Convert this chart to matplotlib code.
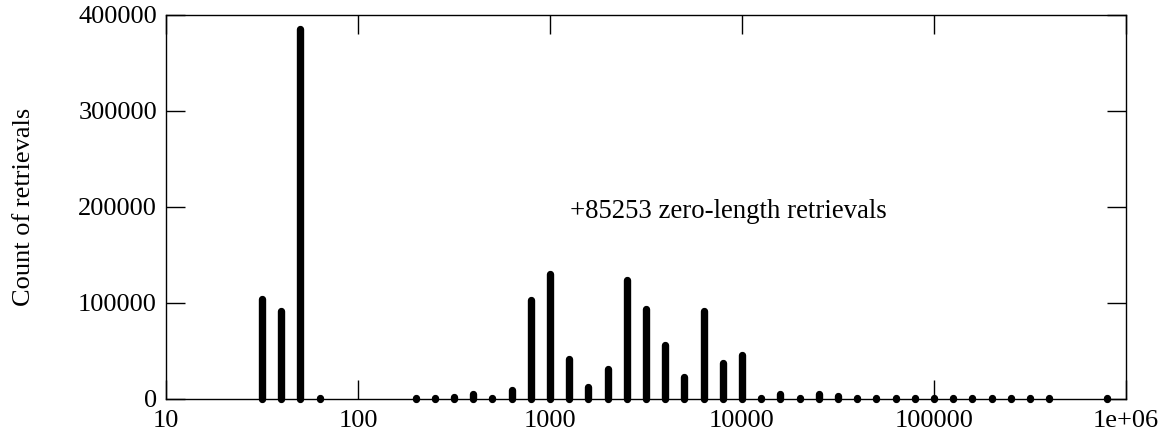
import matplotlib
matplotlib.use("Agg")
import matplotlib.pyplot as plt
from matplotlib.ticker import FixedLocator, FixedFormatter, NullLocator

plt.rcParams['font.family'] = ['Liberation Serif', 'DejaVu Serif']

# Retrieval length bins (bytes, log-spaced) and the number of retrievals per bin
lengths = [31.6, 39.8, 50.1, 63.1,
           200, 251, 316, 398, 501, 631, 794,
           1000, 1259, 1585, 1995, 2512, 3162, 3981, 5012, 6310, 7943,
           10000, 12589, 15849, 19953, 25119, 31623, 39811, 50119, 63096, 79433,
           100000, 125893, 158489, 199526, 251189, 316228, 398107,
           794328]
counts = [103500, 91500, 385000, 600,
          400, 500, 1500, 4800, 600, 8600, 102500,
          129500, 41500, 12000, 31000, 123500, 93000, 55500, 23000, 91000, 37500,
          46000, 700, 4800, 700, 5000, 2400, 600, 500, 400, 400,
          400, 400, 400, 400, 400, 400, 400,
          400]

x_ticks = [10, 100, 1000, 10000, 100000, 1000000]
x_labels = ["10", "100", "1000", "10000", "100000", "1e+06"]
y_ticks = [0, 100000, 200000, 300000, 400000]
y_labels = ["0", "100000", "200000", "300000", "400000"]

note = "+85253 zero-length retrievals"

fig = plt.figure(figsize=(11.68, 4.36), dpi=100)
ax = fig.add_axes([0.1421, 0.0856, 0.8219, 0.8800])

ax.vlines(lengths, 0, counts, colors='black', linewidth=5.3,
          capstyle='round', clip_on=False, zorder=3)

ax.set_xscale('log')
ax.set_xlim(10, 1000000)
ax.set_ylim(0, 400000)

ax.xaxis.set_major_locator(FixedLocator(x_ticks))
ax.xaxis.set_major_formatter(FixedFormatter(x_labels))
ax.xaxis.set_minor_locator(NullLocator())
ax.yaxis.set_major_locator(FixedLocator(y_ticks))
ax.yaxis.set_major_formatter(FixedFormatter(y_labels))

ax.tick_params(axis='both', which='major', direction='in', length=13.7, width=1.0,
               top=True, right=True, labelsize=19, colors='black')
ax.tick_params(axis='x', pad=8.5)
ax.tick_params(axis='y', pad=6.5)

for s in ax.spines.values():
    s.set_linewidth(1.0)
    s.set_color('black')

ax.set_ylabel("Count of retrievals", fontsize=19, labelpad=31)

ax.text(1272, 188000, note, fontsize=19.3, ha='left', va='baseline')

fig.savefig("out.png", dpi=100)
